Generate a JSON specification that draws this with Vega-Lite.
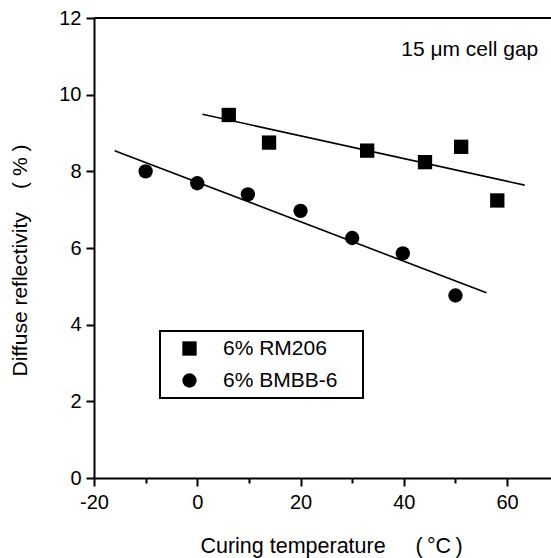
{
  "$schema": "https://vega.github.io/schema/vega-lite/v6.json",
  "width": 457,
  "height": 460,
  "autosize": {"type": "none"},
  "padding": {"left": 94, "top": 18, "right": 0, "bottom": 80},
  "background": "white",
  "config": {
    "view": {"stroke": null},
    "font": "Liberation Sans",
    "axis": {
      "grid": false,
      "domainColor": "black",
      "domainWidth": 2,
      "tickColor": "black",
      "tickWidth": 2,
      "labelColor": "black",
      "labelFontSize": 20,
      "labelFont": "Liberation Sans",
      "titleFont": "Liberation Sans",
      "titleFontSize": 20,
      "titleFontWeight": "normal",
      "titleColor": "black",
      "labelOverlap": false,
      "labelFlush": false
    },
    "legend": {"strokeWidth": 2}
  },
  "datasets": {
    "points": [
      {"series": "6% RM206", "x": 6.1, "y": 9.47},
      {"series": "6% RM206", "x": 13.9, "y": 8.75},
      {"series": "6% RM206", "x": 32.9, "y": 8.54},
      {"series": "6% RM206", "x": 44.1, "y": 8.24},
      {"series": "6% RM206", "x": 51.1, "y": 8.64},
      {"series": "6% RM206", "x": 58.1, "y": 7.24},
      {"series": "6% BMBB-6", "x": -10, "y": 8.0},
      {"series": "6% BMBB-6", "x": 0, "y": 7.69},
      {"series": "6% BMBB-6", "x": 9.8, "y": 7.4},
      {"series": "6% BMBB-6", "x": 20, "y": 6.97},
      {"series": "6% BMBB-6", "x": 30, "y": 6.26},
      {"series": "6% BMBB-6", "x": 39.8, "y": 5.86},
      {"series": "6% BMBB-6", "x": 50, "y": 4.76}
    ],
    "fits": [
      {"series": "6% RM206", "x": 1, "y": 9.49},
      {"series": "6% RM206", "x": 63.4, "y": 7.64},
      {"series": "6% BMBB-6", "x": -16, "y": 8.54},
      {"series": "6% BMBB-6", "x": 56, "y": 4.83}
    ],
    "frame": [{"y": 12}],
    "note": [{"x": 39.5, "y": 11, "text": "15 μm cell gap"}]
  },
  "layer": [
    {
      "data": {"name": "frame"},
      "mark": {"type": "rule", "color": "black", "strokeWidth": 2},
      "encoding": {
        "y": {"field": "y", "type": "quantitative", "scale": {"domain": [0, 12], "nice": false}}
      }
    },
    {
      "data": {"name": "fits"},
      "mark": {"type": "line", "color": "black", "strokeWidth": 1.6},
      "encoding": {
        "x": {"field": "x", "type": "quantitative", "scale": {"domain": [-20, 68.5], "nice": false, "zero": false}},
        "y": {"field": "y", "type": "quantitative", "scale": {"domain": [0, 12], "nice": false}},
        "detail": {"field": "series", "type": "nominal"}
      }
    },
    {
      "data": {"name": "points"},
      "mark": {"type": "point", "filled": true, "color": "black", "size": 205, "opacity": 1, "strokeWidth": 0},
      "encoding": {
        "x": {
          "field": "x", "type": "quantitative",
          "scale": {"domain": [-20, 68.5], "nice": false, "zero": false},
          "axis": {
            "title": "Curing temperature\u00a0\u00a0\u00a0\u00a0\u00a0(\u2009°C\u2009)",
            "titleFontSize": 21.5,
            "values": [-20, -10, 0, 10, 20, 30, 40, 50, 60],
            "labelExpr": "datum.value % 20 === 0 ? '' + datum.value : ''",
            "tickSize": {"condition": {"test": "datum.value % 20 === 0", "value": 8}, "value": 5},
            "labelPadding": 6,
            "titleX": 237,
            "titleY": 74,
            "titleBaseline": "alphabetic"
          }
        },
        "y": {
          "field": "y", "type": "quantitative",
          "scale": {"domain": [0, 12], "nice": false},
          "axis": {
            "title": "Diffuse reflectivity\u00a0\u00a0\u00a0\u00a0( % )",
            "titleFontSize": 21,
            "values": [0, 1, 2, 3, 4, 5, 6, 7, 8, 9, 10, 11, 12],
            "labelExpr": "datum.value % 2 === 0 ? '' + datum.value : ''",
            "tickSize": {"condition": {"test": "datum.value % 2 === 0", "value": 8}, "value": 4},
            "labelPadding": 5,
            "titleAngle": -90,
            "titleAlign": "center",
            "titleBaseline": "alphabetic",
            "titleX": -68,
            "titleY": 242
          }
        },
        "shape": {
          "field": "series", "type": "nominal",
          "scale": {"domain": ["6% RM206", "6% BMBB-6"], "range": ["square", "circle"]},
          "legend": {
            "orient": "none",
            "legendX": 66,
            "legendY": 313,
            "title": "M",
            "titleOrient": "right",
            "titleOpacity": 0,
            "titleFontSize": 12,
            "titlePadding": 9,
            "strokeColor": "black",
            "padding": 7,
            "symbolOffset": 12,
            "labelOffset": 23,
            "labelFontSize": 21,
            "labelColor": "black",
            "labelFont": "Liberation Sans",
            "rowPadding": 10,
            "symbolSize": 205,
            "symbolFillColor": "black",
            "symbolStrokeColor": "black",
            "symbolStrokeWidth": 0
          }
        }
      }
    },
    {
      "data": {"name": "note"},
      "mark": {"type": "text", "align": "left", "baseline": "alphabetic", "fontSize": 21, "font": "Liberation Sans", "color": "black"},
      "encoding": {
        "x": {"field": "x", "type": "quantitative", "scale": {"domain": [-20, 68.5], "nice": false, "zero": false}},
        "y": {"field": "y", "type": "quantitative", "scale": {"domain": [0, 12], "nice": false}},
        "text": {"field": "text"}
      }
    }
  ]
}
